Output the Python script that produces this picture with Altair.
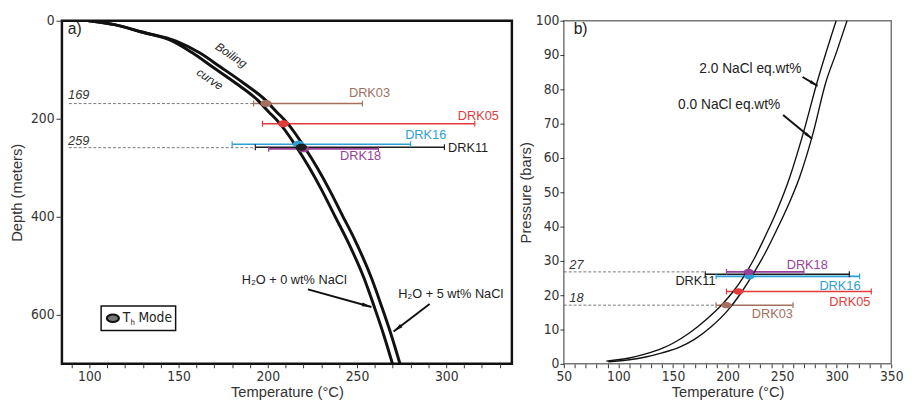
import math
import altair as alt
import pandas as pd

SANS = "Liberation Sans"
NARROW = "Liberation Sans Narrow, Arial Narrow, DejaVu Sans Condensed, Liberation Sans"

SAMPLES = ["DRK03", "DRK05", "DRK16", "DRK11", "DRK18"]
COLORS = ["#a3705e", "#e23b3b", "#2d9fd6", "#1e1e1e", "#9a3f9a"]

# ---------------- panel a) : depth vs temperature ----------------
A_D = [0, 8, 23, 41.6, 65, 95, 128, 162, 185, 210, 256, 300, 346, 400, 445, 525, 584, 640, 700]
A_T0 = [99.5, 114, 129.3, 146.6, 157.5, 169.3, 182.3, 194.3, 200.3, 206.8, 215.8, 223.3, 230.3,
        237.8, 244.1, 253.9, 259.7, 264.9, 269.9]
A_T5 = [99.5, 114, 129.3, 148.6, 161.5, 173.7, 186.7, 198.7, 204.7, 211.2, 220.2, 227.7, 234.7,
        242.2, 248.5, 258.1, 263.9, 269.1, 274.1]

A_TMIN = [192, 197, 180, 193, 200.5]
A_TMAX = [253, 316, 280, 299, 262]
A_DEPTH = [169, 210, 252, 258, 261.5]
A_MODE_T = [199, 208.8, 217.2, 218.8, 220]
A_LABEL_T = [257, 318, 288.5, 301, 252]
A_LABEL_D = [148, 194, 234, 259, 276]
A_LABEL_ALIGN = ["center", "center", "center", "left", "center"]
A_DOT_ORDER = ["DRK03", "DRK05", "DRK16", "DRK18", "DRK11"]

A_REF_D = [169, 259]
A_REF_TEXT = ["169", "259"]
A_REF_T0 = [88.5, 88.5]
A_REF_T1 = [192, 193]
A_REF_LABEL_T = [94, 94]
A_REF_LABEL_D = [152, 245]

A_NOTE_TEXT = ["H₂O + 0 wt% NaCl", "H₂O + 5 wt% NaCl"]
A_NOTE_T = [214.8, 302.5]
A_NOTE_D = [529, 558]
A_ARROW_T0 = [222.5, 290.7]
A_ARROW_D0 = [548, 578]
A_ARROW_T1 = [258.1, 270.5]
A_ARROW_D1 = [584, 634]

A_CAPTION_TEXT = ["Boiling", "curve"]
A_CAPTION_T = [179.5, 167.5]
A_CAPTION_D = [70, 119]

# ---------------- panel b) : pressure vs temperature ----------------
B_T_L = [89, 110, 125, 140, 150, 165, 180, 195, 205, 215, 225, 235, 245, 257, 269, 282, 300]
B_P_L = [0.8, 1.7, 2.9, 4.5, 6.0, 9.0, 12.8, 17.3, 21.0, 25.5, 31.0, 37.5, 44.5, 54.4, 66.8, 82.0, 100.5]
B_T_R = [90.7, 110, 125, 140, 155, 170, 185, 200, 212, 224, 234, 245, 256, 266, 278, 290, 300, 310]
B_P_R = [0.6, 1.2, 2.0, 3.2, 4.7, 7.2, 10.8, 15.5, 20.5, 26.5, 32.0, 39.0, 46.5, 54.4, 66.8, 82.0, 91.0, 100.5]

B_TMIN = [189.5, 199, 189.5, 179.6, 199]
B_TMAX = [260, 331.7, 321, 311.6, 270]
B_P = [17.1, 21.1, 25.5, 26.1, 26.8]
B_MODE_T = [199, 210, 220, 219.5, 219.4]
B_LABEL_T = [241, 312, 303, 170.6, 273]
B_LABEL_P = [14.5, 18.1, 22.8, 24.0, 28.8]
B_DOT_ORDER = ["DRK03", "DRK05", "DRK11", "DRK16", "DRK18"]

B_REF_P = [26.8, 17.1]
B_REF_TEXT = ["27", "18"]
B_REF_T0 = [50, 50]
B_REF_T1 = [180, 189.5]
B_REF_LABEL_T = [61.5, 61.5]
B_REF_LABEL_P = [28.8, 19.2]

B_NOTE_TEXT = ["2.0 NaCl eq.wt%", "0.0 NaCl eq.wt%"]
B_NOTE_T = [220.9, 201.5]
B_NOTE_P = [85.8, 75.4]
B_ARROW_T0 = [268.8, 250.9]
B_ARROW_P0 = [83.6, 72.5]
B_ARROW_T1 = [282.5, 277.4]
B_ARROW_P1 = [81.0, 65.6]

# ---------------- layout ----------------
WA, HA = 459, 350
WB, HB = 334, 350
XA_DOM = [84.6, 336.8]
YA_DOM = [0, 700]
XB_DOM = [50, 350]
YB_DOM = [0, 100]

ELLIPSE = "M -1 0 A 1 0.62 0 1 0 1 0 A 1 0.62 0 1 0 -1 0 Z"
ARROWHEAD = "M 0 0 L 0.45 2.2 L -0.45 2.2 Z"

color_map = dict(zip(SAMPLES, COLORS))


def axis_x(values):
    return alt.Axis(values=values, labelExpr="datum.value % 50 === 0 ? datum.label : ''",
                    tickSize=4, domain=False, grid=False, labelFlush=False, labelOverlap=False,
                    labelPadding=2, titlePadding=1)


def xa(field):
    return alt.X(field, type="quantitative", title="Temperature (°C)",
                 scale=alt.Scale(domain=XA_DOM, nice=False, zero=False),
                 axis=axis_x(list(range(90, 331, 10))))


def ya(field):
    return alt.Y(field, type="quantitative", title="Depth (meters)",
                 scale=alt.Scale(domain=YA_DOM, reverse=True, nice=False, zero=False),
                 axis=alt.Axis(values=[0, 200, 400, 600], tickSize=6, domain=False, grid=False,
                               labelPadding=2, titlePadding=6))


def xb(field):
    return alt.X(field, type="quantitative", title="Temperature (°C)",
                 scale=alt.Scale(domain=XB_DOM, nice=False, zero=False),
                 axis=axis_x(list(range(50, 351, 10))))


def yb(field):
    return alt.Y(field, type="quantitative", title="Pressure (bars)",
                 scale=alt.Scale(domain=YB_DOM, nice=False, zero=False),
                 axis=alt.Axis(values=list(range(0, 101, 10)), tickSize=4, domain=False, grid=False,
                               labelPadding=1, titlePadding=2))


def arrow_angles(t0, v0, t1, v1, xdom, ydom, w, h, yrev):
    out = []
    for a, b, c, d in zip(t0, v0, t1, v1):
        dx = (c - a) * w / (xdom[1] - xdom[0])
        dy = (d - b) * h / (ydom[1] - ydom[0])
        if not yrev:
            dy = -dy
        ang = math.degrees(math.atan2(dx, -dy))
        out.append(ang % 360)
    return out


# ================= panel a =================
curves_a = pd.DataFrame({
    "T": A_T0 + A_T5, "D": A_D + A_D,
    "curve": ["0"] * len(A_D) + ["5"] * len(A_D),
    "i": list(range(len(A_D))) * 2,
})
bars_a = pd.DataFrame({"sample": SAMPLES, "Tmin": A_TMIN, "Tmax": A_TMAX, "D": A_DEPTH,
                       "color": COLORS})
caps_a = pd.DataFrame({"T": A_TMIN + A_TMAX, "D": A_DEPTH * 2, "color": COLORS * 2})
dots_a = pd.DataFrame({"sample": A_DOT_ORDER,
                       "T": [A_MODE_T[SAMPLES.index(s)] for s in A_DOT_ORDER],
                       "D": [A_DEPTH[SAMPLES.index(s)] for s in A_DOT_ORDER],
                       "color": [color_map[s] for s in A_DOT_ORDER]})
labels_a = pd.DataFrame({"sample": SAMPLES, "T": A_LABEL_T, "D": A_LABEL_D, "color": COLORS,
                         "align": A_LABEL_ALIGN})
refs_a = pd.DataFrame({"T0": A_REF_T0, "T1": A_REF_T1, "D": A_REF_D})
reflab_a = pd.DataFrame({"T": A_REF_LABEL_T, "D": A_REF_LABEL_D, "text": A_REF_TEXT})
notes_a = pd.DataFrame({"T": A_NOTE_T, "D": A_NOTE_D, "text": A_NOTE_TEXT})
arrows_a = pd.DataFrame({"T0": A_ARROW_T0, "D0": A_ARROW_D0, "T1": A_ARROW_T1, "D1": A_ARROW_D1,
                         "ang": arrow_angles(A_ARROW_T0, A_ARROW_D0, A_ARROW_T1, A_ARROW_D1,
                                             XA_DOM, YA_DOM, WA, HA, True)})
captions_a = pd.DataFrame({"T": A_CAPTION_T, "D": A_CAPTION_D, "text": A_CAPTION_TEXT})

a_curves = alt.Chart(curves_a).mark_line(color="#111", strokeWidth=3, clip=True,
                                         interpolate="monotone").encode(
    x=xa("T"), y=ya("D"), detail="curve:N", order="i:Q")
a_refs = alt.Chart(refs_a).mark_rule(color="#555", strokeWidth=0.8, strokeDash=[3, 2]).encode(
    x=xa("T0"), x2="T1", y=ya("D"))
a_bars = alt.Chart(bars_a).mark_rule(strokeWidth=1.6).encode(
    x=xa("Tmin"), x2="Tmax", y=ya("D"), color=alt.Color("color:N", scale=None))
a_caps = alt.Chart(caps_a).mark_rule(strokeWidth=1.2, yOffset=-3, y2Offset=3).encode(
    x=xa("T"), y=ya("D"), y2="D", color=alt.Color("color:N", scale=None))
a_dots = alt.Chart(dots_a).mark_point(shape=ELLIPSE, filled=True, opacity=1, size=130).encode(
    x=xa("T"), y=ya("D"), color=alt.Color("color:N", scale=None))
a_labels_c = alt.Chart(labels_a).transform_filter("datum.align == 'center'").mark_text(
    font=SANS, fontSize=13, align="center", baseline="middle").encode(
    x=xa("T"), y=ya("D"), text="sample:N", color=alt.Color("color:N", scale=None))
a_labels_l = alt.Chart(labels_a).transform_filter("datum.align == 'left'").mark_text(
    font=SANS, fontSize=13, align="left", baseline="middle").encode(
    x=xa("T"), y=ya("D"), text="sample:N", color=alt.Color("color:N", scale=None))
a_reflab = alt.Chart(reflab_a).mark_text(font=SANS, fontSize=13, fontStyle="italic",
                                         color="#333", align="center", baseline="middle").encode(
    x=xa("T"), y=ya("D"), text="text:N")
a_notes = alt.Chart(notes_a).mark_text(font=SANS, fontSize=13, color="#222", align="center",
                                       baseline="middle").encode(x=xa("T"), y=ya("D"), text="text:N")
a_arrow_lines = alt.Chart(arrows_a).mark_rule(color="#111", strokeWidth=2).encode(
    x=xa("T0"), y=ya("D0"), x2="T1", y2="D1")
a_arrow_heads = alt.Chart(arrows_a).mark_point(shape=ARROWHEAD, filled=True, color="#111",
                                               opacity=1, size=80).encode(
    x=xa("T1"), y=ya("D1"), angle=alt.Angle("ang:Q", scale=None))
a_boiling = alt.Chart(captions_a).mark_text(
    font=SANS, fontSize=12, fontStyle="italic", color="#222", angle=34,
    align="center", baseline="middle").encode(x=xa("T"), y=ya("D"), text="text:N")

one = pd.DataFrame({"k": [0]})
a_tag = alt.Chart(one).mark_text(font=SANS, fontSize=16, color="#222", align="left",
                                 baseline="middle", text="a)").encode(
    x=alt.value(6), y=alt.value(9))
a_legbox = alt.Chart(one).mark_rect(fill="white", stroke="#111", strokeWidth=1.5).encode(
    x=alt.value(40), x2=alt.value(116), y=alt.value(291), y2=alt.value(316))
a_legdot = alt.Chart(one).mark_point(shape=ELLIPSE, filled=True, fill="#777", stroke="#111",
                                     strokeWidth=2.2, opacity=1, size=150).encode(
    x=alt.value(52), y=alt.value(303.5))
a_legT = alt.Chart(one).mark_text(font=NARROW, fontSize=14, color="#222", align="left",
                                  baseline="middle", text="T").encode(x=alt.value(62), y=alt.value(303))
a_legh = alt.Chart(one).mark_text(font=NARROW, fontSize=8, color="#222", align="left",
                                  baseline="middle", text="h").encode(x=alt.value(70), y=alt.value(308))
a_legM = alt.Chart(one).mark_text(font=NARROW, fontSize=14, color="#222", align="left",
                                  baseline="middle", text="Mode").encode(x=alt.value(78), y=alt.value(303))

panel_a = alt.layer(
    a_refs, a_bars, a_caps, a_curves, a_dots, a_labels_c, a_labels_l, a_reflab, a_notes,
    a_arrow_lines, a_arrow_heads, a_boiling, a_tag, a_legbox, a_legdot, a_legT, a_legh, a_legM
).properties(width=WA, height=HA,
             view=alt.ViewBackground(stroke="#111", strokeWidth=2.5, fill="white"))

# ================= panel b =================
curves_b = pd.DataFrame({
    "T": B_T_L + B_T_R, "P": B_P_L + B_P_R,
    "curve": ["2.0"] * len(B_T_L) + ["0.0"] * len(B_T_R),
    "i": list(range(len(B_T_L))) + list(range(len(B_T_R))),
})
bars_b = pd.DataFrame({"sample": SAMPLES, "Tmin": B_TMIN, "Tmax": B_TMAX, "P": B_P, "color": COLORS})
caps_b = pd.DataFrame({"T": B_TMIN + B_TMAX, "P": B_P * 2, "color": COLORS * 2})
dots_b = pd.DataFrame({"sample": B_DOT_ORDER,
                       "T": [B_MODE_T[SAMPLES.index(s)] for s in B_DOT_ORDER],
                       "P": [B_P[SAMPLES.index(s)] for s in B_DOT_ORDER],
                       "color": [color_map[s] for s in B_DOT_ORDER]})
labels_b = pd.DataFrame({"sample": SAMPLES, "T": B_LABEL_T, "P": B_LABEL_P, "color": COLORS})
refs_b = pd.DataFrame({"T0": B_REF_T0, "T1": B_REF_T1, "P": B_REF_P})
reflab_b = pd.DataFrame({"T": B_REF_LABEL_T, "P": B_REF_LABEL_P, "text": B_REF_TEXT})
notes_b = pd.DataFrame({"T": B_NOTE_T, "P": B_NOTE_P, "text": B_NOTE_TEXT})
arrows_b = pd.DataFrame({"T0": B_ARROW_T0, "P0": B_ARROW_P0, "T1": B_ARROW_T1, "P1": B_ARROW_P1,
                         "ang": arrow_angles(B_ARROW_T0, B_ARROW_P0, B_ARROW_T1, B_ARROW_P1,
                                             XB_DOM, YB_DOM, WB, HB, False)})

b_curves = alt.Chart(curves_b).mark_line(color="#111", strokeWidth=1.4, clip=True,
                                         interpolate="monotone").encode(
    x=xb("T"), y=yb("P"), detail="curve:N", order="i:Q")
b_refs = alt.Chart(refs_b).mark_rule(color="#555", strokeWidth=0.8, strokeDash=[3, 2]).encode(
    x=xb("T0"), x2="T1", y=yb("P"))
b_bars = alt.Chart(bars_b).mark_rule(strokeWidth=1.6).encode(
    x=xb("Tmin"), x2="Tmax", y=yb("P"), color=alt.Color("color:N", scale=None))
b_caps = alt.Chart(caps_b).mark_rule(strokeWidth=1.2, yOffset=-3, y2Offset=3).encode(
    x=xb("T"), y=yb("P"), y2="P", color=alt.Color("color:N", scale=None))
b_dots = alt.Chart(dots_b).mark_point(shape=ELLIPSE, filled=True, opacity=1, size=110).encode(
    x=xb("T"), y=yb("P"), color=alt.Color("color:N", scale=None))
b_labels = alt.Chart(labels_b).mark_text(font=SANS, fontSize=13, align="center",
                                         baseline="middle").encode(
    x=xb("T"), y=yb("P"), text="sample:N", color=alt.Color("color:N", scale=None))
b_reflab = alt.Chart(reflab_b).mark_text(font=SANS, fontSize=13, fontStyle="italic",
                                         color="#333", align="center", baseline="middle").encode(
    x=xb("T"), y=yb("P"), text="text:N")
b_notes = alt.Chart(notes_b).mark_text(font=SANS, fontSize=14, color="#222", align="center",
                                       baseline="middle").encode(x=xb("T"), y=yb("P"), text="text:N")
b_arrow_lines = alt.Chart(arrows_b).mark_rule(color="#111", strokeWidth=2).encode(
    x=xb("T0"), y=yb("P0"), x2="T1", y2="P1")
b_arrow_heads = alt.Chart(arrows_b).mark_point(shape=ARROWHEAD, filled=True, color="#111",
                                               opacity=1, size=60).encode(
    x=xb("T1"), y=yb("P1"), angle=alt.Angle("ang:Q", scale=None))
b_tag = alt.Chart(one).mark_text(font=SANS, fontSize=16, color="#222", align="left",
                                 baseline="middle", text="b)").encode(
    x=alt.value(10), y=alt.value(9))

panel_b = alt.layer(
    b_refs, b_bars, b_caps, b_curves, b_dots, b_labels, b_reflab, b_notes,
    b_arrow_lines, b_arrow_heads, b_tag
).properties(width=WB, height=HB,
             view=alt.ViewBackground(stroke="#777", strokeWidth=1.5, fill="white"))

chart = alt.hconcat(panel_a, panel_b, spacing=4).properties(
    padding={"left": 0, "top": 0, "right": 0, "bottom": 0}
).configure_axis(
    labelFont=NARROW, labelFontSize=14, labelColor="#333",
    titleFont=SANS, titleFontSize=15, titleFontWeight="normal", titleColor="#333",
    tickColor="#333"
).configure_view(strokeWidth=0)

chart.save("out.html", embed_options={"renderer": "svg", "actions": False})
